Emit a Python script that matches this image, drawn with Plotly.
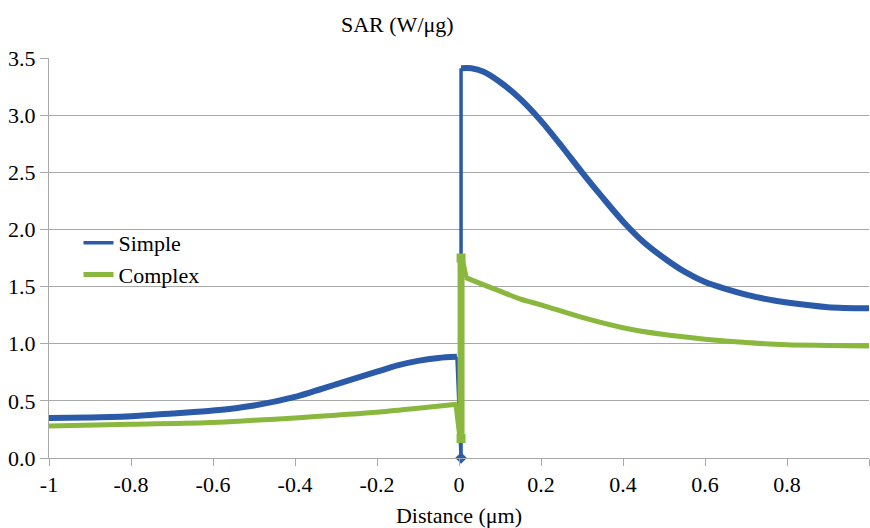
import plotly.graph_objects as go

# SAR profile across the particle boundary (distance in µm, SAR in W/µg)
simple_in_x = [-1.0, -0.9, -0.8, -0.7, -0.6, -0.5, -0.4, -0.3, -0.2, -0.15, -0.1, -0.05, -0.005]
simple_in_y = [0.35, 0.355, 0.365, 0.39, 0.415, 0.46, 0.535, 0.645, 0.755, 0.81, 0.85, 0.875, 0.885]
simple_edge_x = 0.005
simple_edge_y = 0.0
simple_out_x = [0.005, 0.03, 0.06, 0.1, 0.15, 0.2, 0.25, 0.3, 0.35, 0.4, 0.45, 0.5, 0.55, 0.6, 0.65, 0.7, 0.75, 0.8, 0.9, 1.0]
simple_out_y = [3.41, 3.41, 3.38, 3.29, 3.14, 2.95, 2.73, 2.50, 2.28, 2.07, 1.89, 1.75, 1.63, 1.54, 1.48, 1.43, 1.39, 1.36, 1.32, 1.31]

complex_in_x = [-1.0, -0.8, -0.6, -0.5, -0.4, -0.3, -0.2, -0.1, -0.005]
complex_in_y = [0.28, 0.295, 0.31, 0.33, 0.35, 0.375, 0.40, 0.435, 0.47]
complex_edge_x = 0.005
complex_edge_y = [0.17, 1.75]
complex_out_x = [0.015, 0.05, 0.1, 0.15, 0.2, 0.3, 0.4, 0.5, 0.6, 0.7, 0.8, 0.9, 1.0]
complex_out_y = [1.58, 1.53, 1.46, 1.39, 1.34, 1.23, 1.14, 1.08, 1.04, 1.01, 0.99, 0.985, 0.98]

x_ticks = [-1, -0.8, -0.6, -0.4, -0.2, 0, 0.2, 0.4, 0.6, 0.8, 1]
x_tick_text = ["-1", "-0.8", "-0.6", "-0.4", "-0.2", "0", "0.2", "0.4", "0.6", "0.8", "1"]
y_ticks = [0, 0.5, 1.0, 1.5, 2.0, 2.5, 3.0, 3.5]

BLUE = "#2B5BA8"
GREEN = "#8AB83E"
GRID = "#A8A8A8"
FONT = "Liberation Serif"
SMOOTH = dict(shape="spline", smoothing=0.8)


def serif(size=22):
    return dict(family=FONT, size=size, color="black")


fig = go.Figure()

# Simple
fig.add_trace(go.Scatter(x=simple_in_x, y=simple_in_y, mode="lines",
                         line=dict(color=BLUE, width=6, **SMOOTH), legendgroup="s",
                         showlegend=False))
fig.add_trace(go.Scatter(x=[simple_in_x[-1], simple_edge_x, simple_out_x[0]],
                         y=[simple_in_y[-1], simple_edge_y, simple_out_y[0]],
                         mode="lines", name="Simple", legendgroup="s",
                         line=dict(color=BLUE, width=3.5), cliponaxis=False))
fig.add_trace(go.Scatter(x=simple_out_x, y=simple_out_y, mode="lines",
                         line=dict(color=BLUE, width=6, **SMOOTH), legendgroup="s",
                         showlegend=False))
fig.add_trace(go.Scatter(x=[simple_edge_x], y=[simple_edge_y], mode="markers",
                         marker=dict(color=BLUE, size=9, symbol="diamond"),
                         legendgroup="s", showlegend=False, cliponaxis=False))

# Complex
fig.add_trace(go.Scatter(x=complex_in_x, y=complex_in_y, mode="lines", name="Complex",
                         line=dict(color=GREEN, width=5, **SMOOTH), legendgroup="c"))
fig.add_trace(go.Scatter(x=[complex_in_x[-1], complex_edge_x, complex_edge_x, complex_out_x[0]],
                         y=[complex_in_y[-1], complex_edge_y[0], complex_edge_y[1], complex_out_y[0]],
                         mode="lines", line=dict(color=GREEN, width=7),
                         legendgroup="c", showlegend=False))
fig.add_trace(go.Scatter(x=complex_out_x, y=complex_out_y, mode="lines",
                         line=dict(color=GREEN, width=5, **SMOOTH), legendgroup="c",
                         showlegend=False))
fig.add_trace(go.Scatter(x=[complex_edge_x, complex_edge_x], y=complex_edge_y, mode="markers",
                         marker=dict(color=GREEN, size=9, symbol="square"),
                         legendgroup="c", showlegend=False, cliponaxis=False))

fig.update_layout(
    width=870, height=528,
    margin=dict(l=49, r=1, t=58, b=70),
    paper_bgcolor="white", plot_bgcolor="white",
    font=serif(),
    showlegend=True,
    legend=dict(x=0.036, y=0.59, xanchor="left", yanchor="top",
                bgcolor="rgba(0,0,0,0)", borderwidth=0,
                font=serif(), tracegroupgap=0),
    xaxis=dict(range=[-1, 1], tickvals=x_ticks, ticktext=x_tick_text,
               showgrid=False, zeroline=False, showline=True, linecolor=GRID, linewidth=1,
               ticks="outside", ticklen=7, tickcolor=GRID,
               tickfont=serif(),
               title=dict(text="Distance (μm)", font=serif(), standoff=14)),
    yaxis=dict(range=[0, 3.5], tickvals=y_ticks, tickformat=".1f",
               showgrid=True, gridcolor=GRID, gridwidth=1, zeroline=False,
               showline=True, linecolor=GRID, linewidth=1,
               ticks="outside", ticklen=8, tickcolor=GRID,
               tickfont=serif()),
    annotations=[dict(text="SAR (W/μg)", xref="paper", yref="paper",
                      x=0.4256, y=1.0825, xanchor="center", yanchor="middle",
                      showarrow=False, font=serif())],
)

fig.write_html("out.html")
